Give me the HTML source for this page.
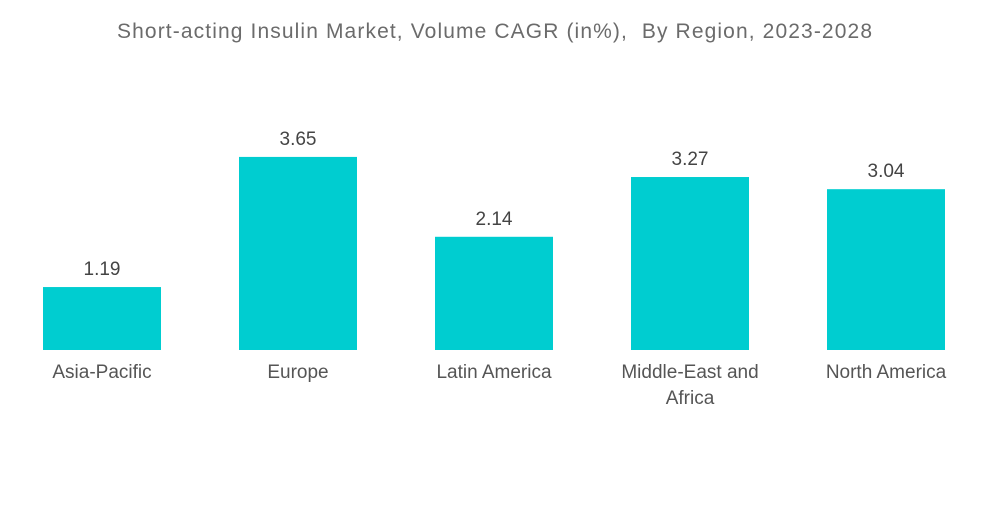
<!DOCTYPE html>
<html><head><meta charset="utf-8"><style>
body{margin:0;background:#fff;font-family:"Liberation Sans",sans-serif;}
svg text{font-family:"Liberation Sans",sans-serif;}
</style></head><body>
<svg id="chart" width="1000" height="504">
<text x="117" y="38" font-size="21" fill="#6b6b6b" textLength="755" lengthAdjust="spacing" xml:space="preserve">Short-acting Insulin Market, Volume CAGR (in%),  By Region, 2023-2028</text>
<g id="bars"></g>
</svg>
<script>
const categories=["Asia-Pacific","Europe","Latin America","Middle-East and|Africa","North America"];
const values=[1.19,3.65,2.14,3.27,3.04];
const labels=["1.19","3.65","2.14","3.27","3.04"];
const baseY=350, pxPerUnit=52.9, x0=43, step=196, bw=118;
const yScale=v=>baseY-v*pxPerUnit;
const xScale=i=>x0+i*step;
const g=document.getElementById('bars');
const ns="http://www.w3.org/2000/svg";
categories.forEach((c,i)=>{
  const r=document.createElementNS(ns,'rect');
  r.setAttribute('x',xScale(i));r.setAttribute('y',yScale(values[i]));
  r.setAttribute('width',bw);r.setAttribute('height',baseY-yScale(values[i]));
  r.setAttribute('fill','#00cdd0');
  
  
  g.appendChild(r);
  const t=document.createElementNS(ns,'text');
  t.setAttribute('x',xScale(i)+bw/2);t.setAttribute('y',yScale(values[i])-12);
  t.setAttribute('text-anchor','middle');t.setAttribute('font-size','19');t.setAttribute('fill','#444');
  t.textContent=labels[i];
  
  
  g.appendChild(t);
  c.split('|').forEach((line,j)=>{
    const l=document.createElementNS(ns,'text');
    l.setAttribute('x',xScale(i)+bw/2);l.setAttribute('y',378+j*26);
    l.setAttribute('text-anchor','middle');l.setAttribute('font-size','19');l.setAttribute('fill','#555');
    l.textContent=line;
    
    
    g.appendChild(l);
  });
});
</script>
</body></html>
